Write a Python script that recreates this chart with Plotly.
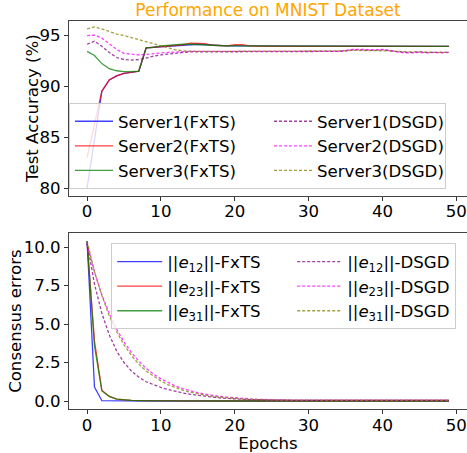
import plotly.graph_objects as go

# ---------------- data ----------------
epochs = list(range(50))
x_ticks = [0, 10, 20, 30, 40, 50]

acc_server1_fxts = [80.0, 85.0, 89.5, 90.6, 91.0, 91.25, 91.35, 91.45, 93.75, 93.8,
                    93.85, 93.95, 94.0, 94.05, 94.1, 94.1, 94.05, 94.0, 93.95, 93.95,
                    93.95, 93.95, 93.95, 93.9, 93.9, 93.9, 93.9, 93.9, 93.9, 93.9,
                    93.9, 93.9, 93.9, 93.9, 93.9, 93.92, 93.92, 93.92, 93.92, 93.9,
                    93.9, 93.9, 93.92, 93.92, 93.9, 93.9, 93.9, 93.9, 93.9, 93.9]
acc_server2_fxts = [83.0, 86.3, 89.5, 90.6, 91.0, 91.25, 91.35, 91.45, 93.75, 93.8,
                    93.85, 93.95, 94.0, 94.05, 94.2, 94.2, 94.15, 94.0, 93.95, 93.95,
                    94.05, 94.05, 93.95, 93.9, 93.9, 93.9, 93.9, 93.9, 93.9, 93.9,
                    93.9, 93.9, 93.9, 93.9, 93.9, 93.92, 93.92, 93.92, 93.92, 93.9,
                    93.9, 93.9, 93.92, 93.92, 93.9, 93.9, 93.9, 93.9, 93.9, 93.9]
acc_server3_fxts = [93.4, 93.0, 92.2, 91.7, 91.5, 91.42, 91.42, 91.45, 93.75, 93.8,
                    93.95, 94.0, 94.1, 94.1, 94.1, 94.1, 94.05, 94.0, 93.95, 93.95,
                    93.95, 93.95, 93.95, 93.9, 93.9, 93.9, 93.9, 93.9, 93.9, 93.9,
                    93.9, 93.9, 93.9, 93.9, 93.9, 93.92, 93.92, 93.92, 93.92, 93.9,
                    93.9, 93.9, 93.92, 93.92, 93.9, 93.9, 93.9, 93.9, 93.9, 93.9]
acc_server1_dsgd = [94.1, 94.4, 93.9, 93.3, 92.8, 92.6, 92.55, 92.6, 92.75, 92.95,
                    93.05, 93.15, 93.25, 93.3, 93.35, 93.35, 93.4, 93.4, 93.4, 93.4,
                    93.4, 93.4, 93.4, 93.4, 93.4, 93.4, 93.4, 93.4, 93.4, 93.4,
                    93.4, 93.4, 93.4, 93.4, 93.4, 93.45, 93.55, 93.55, 93.5, 93.5,
                    93.55, 93.45, 93.4, 93.3, 93.3, 93.35, 93.3, 93.3, 93.3, 93.3]
acc_server2_dsgd = [94.95, 95.0, 94.7, 94.15, 93.6, 93.2, 93.1, 93.05, 93.1, 93.2,
                    93.25, 93.3, 93.35, 93.35, 93.4, 93.4, 93.4, 93.4, 93.4, 93.4,
                    93.4, 93.4, 93.4, 93.4, 93.4, 93.4, 93.4, 93.4, 93.4, 93.4,
                    93.4, 93.4, 93.4, 93.4, 93.4, 93.5, 93.6, 93.6, 93.55, 93.55,
                    93.6, 93.5, 93.4, 93.25, 93.25, 93.3, 93.25, 93.3, 93.25, 93.3]
acc_server3_dsgd = [95.6, 95.8, 95.6, 95.35, 95.1, 94.95, 94.75, 94.55, 94.35, 94.1,
                    93.9, 93.75, 93.55, 93.45, 93.4, 93.4, 93.4, 93.4, 93.4, 93.4,
                    93.4, 93.4, 93.4, 93.4, 93.4, 93.4, 93.4, 93.4, 93.4, 93.4,
                    93.4, 93.4, 93.4, 93.4, 93.4, 93.45, 93.5, 93.5, 93.5, 93.5,
                    93.5, 93.45, 93.4, 93.35, 93.35, 93.35, 93.3, 93.3, 93.3, 93.3]

err_e12_fxts = [10.4, 0.9, 0.02, 0.01, 0.01, 0.01, 0.0, 0.0, 0.0, 0.0,
                0.0, 0.0, 0.0, 0.0, 0.0, 0.0, 0.0, 0.0, 0.0, 0.0,
                0.0, 0.0, 0.0, 0.0, 0.0, 0.0, 0.0, 0.0, 0.0, 0.0,
                0.0, 0.0, 0.0, 0.0, 0.0, 0.0, 0.0, 0.0, 0.0, 0.0,
                0.0, 0.0, 0.0, 0.0, 0.0, 0.0, 0.0, 0.0, 0.0, 0.0]
err_e23_fxts = [10.3, 3.9, 0.7, 0.3, 0.12, 0.06, 0.04, 0.03, 0.02, 0.02,
                0.01, 0.01, 0.01, 0.01, 0.01, 0.0, 0.0, 0.0, 0.0, 0.0,
                0.0, 0.0, 0.0, 0.0, 0.0, 0.0, 0.0, 0.0, 0.0, 0.0,
                0.0, 0.0, 0.0, 0.0, 0.0, 0.0, 0.0, 0.0, 0.0, 0.0,
                0.0, 0.0, 0.0, 0.0, 0.0, 0.0, 0.0, 0.0, 0.0, 0.0]
err_e31_fxts = [10.4, 3.6, 0.65, 0.3, 0.12, 0.06, 0.04, 0.03, 0.02, 0.02,
                0.01, 0.01, 0.01, 0.01, 0.01, 0.0, 0.0, 0.0, 0.0, 0.0,
                0.0, 0.0, 0.0, 0.0, 0.0, 0.0, 0.0, 0.0, 0.0, 0.0,
                0.0, 0.0, 0.0, 0.0, 0.0, 0.0, 0.0, 0.0, 0.0, 0.0,
                0.0, 0.0, 0.0, 0.0, 0.0, 0.0, 0.0, 0.0, 0.0, 0.0]
err_e12_dsgd = [10.3, 7.6, 5.7, 4.3, 3.25, 2.5, 1.95, 1.55, 1.25, 1.05,
                0.88, 0.74, 0.62, 0.52, 0.43, 0.36, 0.3, 0.25, 0.2, 0.16,
                0.13, 0.11, 0.09, 0.08, 0.07, 0.06, 0.06, 0.05, 0.05, 0.05,
                0.05, 0.05, 0.05, 0.05, 0.05, 0.05, 0.05, 0.05, 0.05, 0.05,
                0.05, 0.05, 0.05, 0.05, 0.05, 0.05, 0.05, 0.05, 0.05, 0.05]
err_e23_dsgd = [10.2, 8.4, 6.9, 5.7, 4.67, 3.84, 3.15, 2.59, 2.13, 1.75,
                1.44, 1.18, 0.97, 0.8, 0.66, 0.54, 0.44, 0.36, 0.3, 0.25,
                0.2, 0.17, 0.14, 0.11, 0.09, 0.08, 0.07, 0.06, 0.06, 0.05,
                0.05, 0.05, 0.05, 0.05, 0.05, 0.05, 0.05, 0.05, 0.05, 0.05,
                0.05, 0.05, 0.05, 0.05, 0.05, 0.05, 0.05, 0.05, 0.05, 0.05]
err_e31_dsgd = [10.4, 8.4, 6.85, 5.55, 4.5, 3.65, 2.96, 2.4, 1.95, 1.6,
                1.3, 1.05, 0.85, 0.69, 0.56, 0.46, 0.37, 0.3, 0.25, 0.2,
                0.16, 0.13, 0.11, 0.09, 0.08, 0.07, 0.06, 0.06, 0.05, 0.05,
                0.05, 0.05, 0.05, 0.05, 0.05, 0.05, 0.05, 0.05, 0.05, 0.05,
                0.05, 0.05, 0.05, 0.05, 0.05, 0.05, 0.05, 0.05, 0.05, 0.05]

acc_ticks = [80, 85, 90, 95]
err_ticks = [0.0, 2.5, 5.0, 7.5, 10.0]

# ---------------- styles ----------------
FONT = "DejaVu Sans"
FS = 16.6
C_BLUE = "rgba(0,0,255,0.75)"
C_RED = "rgba(255,0,0,0.75)"
C_GREEN = "rgba(0,128,0,0.75)"
C_PURPLE = "rgba(128,0,128,0.75)"
C_MAGENTA = "rgba(255,0,255,0.75)"
C_OLIVE = "rgba(128,128,0,0.75)"

fig = go.Figure()

top_series = [
    ("Server1(FxTS)", acc_server1_fxts, C_BLUE, "solid", 1),
    ("Server2(FxTS)", acc_server2_fxts, C_RED, "solid", 3),
    ("Server3(FxTS)", acc_server3_fxts, C_GREEN, "solid", 5),
    ("Server1(DSGD)", acc_server1_dsgd, C_PURPLE, "3px,2px", 2),
    ("Server2(DSGD)", acc_server2_dsgd, C_MAGENTA, "3px,2px", 4),
    ("Server3(DSGD)", acc_server3_dsgd, C_OLIVE, "3px,2px", 6),
]
for name, vals, col, dash, rank in top_series:
    fig.add_trace(go.Scatter(
        x=epochs, y=vals, mode="lines", name=name,
        line=dict(color=col, width=1.3, dash=dash),
        xaxis="x", yaxis="y", legend="legend", legendrank=rank,
        legendwidth=146 if dash == "solid" else 123,
    ))

bot_series = [
    ("||<i>e</i><sub>12</sub>||-FxTS", err_e12_fxts, C_BLUE, "solid", 1),
    ("||<i>e</i><sub>23</sub>||-FxTS", err_e23_fxts, C_RED, "solid", 3),
    ("||<i>e</i><sub>31</sub>||-FxTS", err_e31_fxts, C_GREEN, "solid", 5),
    ("||<i>e</i><sub>12</sub>||-DSGD", err_e12_dsgd, C_PURPLE, "3px,2px", 2),
    ("||<i>e</i><sub>23</sub>||-DSGD", err_e23_dsgd, C_MAGENTA, "3px,2px", 4),
    ("||<i>e</i><sub>31</sub>||-DSGD", err_e31_dsgd, C_OLIVE, "3px,2px", 6),
]
for name, vals, col, dash, rank in bot_series:
    fig.add_trace(go.Scatter(
        x=epochs, y=vals, mode="lines", name=name,
        line=dict(color=col, width=1.3, dash=dash),
        xaxis="x2", yaxis="y2", legend="legend2", legendrank=rank,
        legendwidth=120 if dash == "solid" else 103,
    ))

axis_common = dict(
    showgrid=False, zeroline=False, showline=True, linecolor="#444", linewidth=1,
    ticks="outside", ticklen=4, tickwidth=1, tickcolor="#333", automargin=False,
    tickfont=dict(family=FONT, size=FS, color="black"),
)

TOP_DOM = [0.549, 1]
BOT_DOM = [0, 0.4536]

fig.update_layout(
    width=467, height=453,
    margin=dict(l=69, r=0, t=21, b=44, autoexpand=False),
    paper_bgcolor="white", plot_bgcolor="white",
    hovermode=False,
    font=dict(family=FONT, size=FS, color="black"),
    title=dict(text="Performance on MNIST Dataset", x=0.5, xref="paper", xanchor="center",
               y=1 - 10 / 453, yref="container", yanchor="middle",
               font=dict(family=FONT, size=17, color="#FFA500")),
    xaxis=dict(domain=[0, 1], range=[-2.45, 51.45], tickvals=x_ticks, anchor="y",
               mirror=True, ticklabelstandoff=-4, **axis_common),
    yaxis=dict(domain=TOP_DOM, range=[79.22, 96.38], tickvals=acc_ticks, anchor="x",
               **axis_common),
    xaxis2=dict(domain=[0, 1], range=[-2.45, 51.45], tickvals=x_ticks, anchor="y2",
                mirror=True, ticklabelstandoff=-3,
                title=dict(text="Epochs", standoff=0, font=dict(family=FONT, size=FS, color="black")),
                **axis_common),
    yaxis2=dict(domain=BOT_DOM, range=[-0.52, 10.92], tickvals=err_ticks, tickformat=".1f",
                anchor="x2", **axis_common),
    legend=dict(orientation="h", x=0, xanchor="left", y=0.7887, yanchor="top",
                itemwidth=38, bgcolor="rgba(255,255,255,0.8)", bordercolor="#cccccc",
                borderwidth=1, font=dict(family=FONT, size=FS, color="black"),
                entrywidthmode="pixels"),
    legend2=dict(orientation="h", x=0.106, xanchor="left", y=0.427, yanchor="top",
                 itemwidth=45, bgcolor="rgba(255,255,255,0.8)", bordercolor="#cccccc",
                 borderwidth=1, font=dict(family=FONT, size=FS, color="black"),
                 entrywidthmode="pixels"),
    annotations=[
        dict(text="Test Accuracy (%)", textangle=-90, showarrow=False,
             xref="paper", yref="paper", x=-0.092, y=(TOP_DOM[0] + TOP_DOM[1]) / 2,
             xanchor="center", yanchor="middle",
             font=dict(family=FONT, size=FS, color="black")),
        dict(text="Consensus errors", textangle=-90, showarrow=False,
             xref="paper", yref="paper", x=-0.136, y=(BOT_DOM[0] + BOT_DOM[1]) / 2,
             xanchor="center", yanchor="middle",
             font=dict(family=FONT, size=FS, color="black")),
    ],
)

fig.write_html("out.html", config={"displayModeBar": False},
               post_script="document.body.style.margin='0px';")
